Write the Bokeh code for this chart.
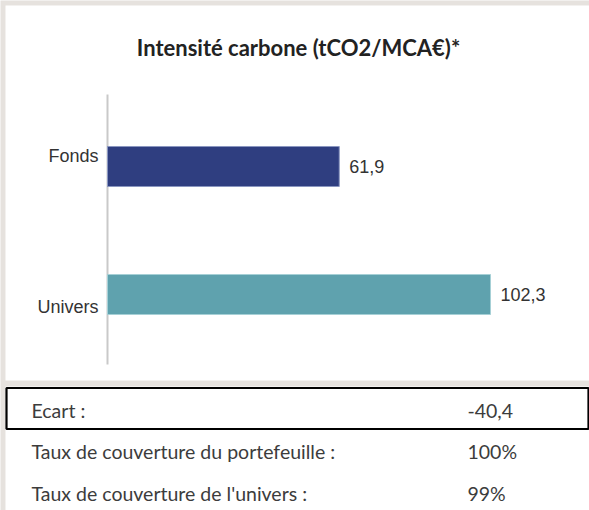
from bokeh.plotting import figure
from bokeh.models import Range1d, ColumnDataSource
from bokeh.core.properties import value
from bokeh.embed import file_html
from bokeh.resources import INLINE

# ---- data ----
title_text = "Intensité carbone (tCO2/MCA€)*"
categories = ["Fonds", "Univers"]
intensity = [61.9, 102.3]
table_labels = ["Ecart :", "Taux de couverture du portefeuille :", "Taux de couverture de l'univers :"]
table_values = ["-40,4", "100%", "99%"]

# ---- styles ----
bar_colors = ["#2f3e80", "#5fa2ae"]
bar_edges = ["#8a96c0", "#a6d0d6"]
label_offsets = [-11, 12]
BG = "#e6e2de"

FIG_W, FIG_H, MARGIN = 589, 510, 0
X0, SX = 107, 3.744     # pixel of value 0, pixels per unit
Y0, SY = 216, 128       # pixel (from bottom) of category index 0, pixels per step


def dx(page_x):
    return (page_x - MARGIN - X0) / SX


def dy(page_y):
    return (FIG_H - (page_y - MARGIN) - Y0) / SY


p = figure(width=FIG_W, height=FIG_H, output_backend="svg", toolbar_location=None,
           x_range=Range1d(dx(MARGIN), dx(MARGIN + FIG_W)),
           y_range=Range1d(dy(MARGIN + FIG_H), dy(MARGIN)),
           x_axis_location=None, y_axis_location=None,
           min_border=0, min_border_left=0, min_border_right=0,
           min_border_top=0, min_border_bottom=0)
p.grid.visible = False
p.outline_line_color = None
p.background_fill_color = BG
p.border_fill_color = BG

# card backgrounds
p.quad(left=[dx(5)], right=[dx(600)], top=[dy(5)], bottom=[dy(380)],
       fill_color="white", line_color=None)
p.quad(left=[dx(5)], right=[dx(600)], top=[dy(386)], bottom=[dy(520)],
       fill_color="white", line_color=None)
# boxed first row
p.quad(left=[dx(6)], right=[dx(MARGIN + FIG_W - 1)], top=[dy(387.5)], bottom=[dy(428.5)],
       fill_color=None, line_color="black", line_width=2.2)

# axis line
p.segment(x0=[0], x1=[0], y0=[dy(94)], y1=[dy(364)], line_color="#c9c9c9", line_width=2)

n = len(categories)
ypos = [n - 1 - i for i in range(n)]
src = ColumnDataSource(dict(
    cat=categories, val=intensity, y=ypos,
    lab=[f"{v:.1f}".replace(".", ",") for v in intensity],
    color=bar_colors, edge=bar_edges, off=label_offsets,
))

p.hbar(y="y", left=0, right="val", height=40 / SY, fill_color="color",
       line_color="edge", line_width=1, source=src)

p.text(x=0, y="y", text="cat", y_offset="off", x_offset=-9, text_align="right",
       text_baseline="middle", text_font=value("Liberation Sans"),
       text_font_size="18px", text_color="#333333", source=src)
p.text(x="val", y="y", text="lab", x_offset=10, text_align="left",
       text_baseline="middle", text_font=value("Liberation Sans"),
       text_font_size="18px", text_color="#333333", source=src)

# title
p.text(x=[dx(298)], y=[dy(47)], text=[title_text], text_align="center",
       text_baseline="middle", text_font=value("Lato"), text_font_style="bold",
       text_font_size="22px", text_color="#222222")

# table
row_y = [dy(410), dy(451), dy(493)]
p.text(x=[dx(31)] * len(table_labels), y=row_y, text=table_labels,
       text_align="left", text_baseline="middle", text_font=value("Lato"),
       text_font_size="19.5px", text_color="#3c3c3c")
p.text(x=[dx(467)] * len(table_values), y=row_y, text=table_values,
       text_align="left", text_baseline="middle", text_font=value("Lato"),
       text_font_size="19.5px", text_color="#3c3c3c")

open("out.html", "w").write(file_html(p, INLINE))
